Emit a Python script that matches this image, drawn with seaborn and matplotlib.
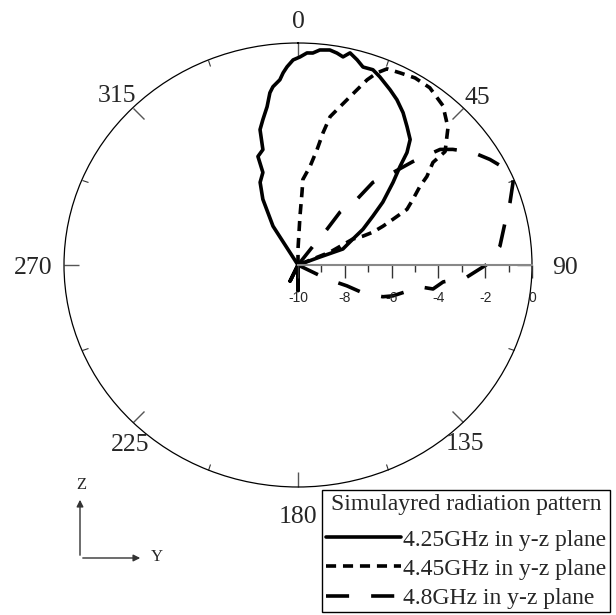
import numpy as np
import pandas as pd
import matplotlib
matplotlib.use("Agg")
import matplotlib.pyplot as plt
import seaborn as sns
from matplotlib.ticker import FixedLocator, FixedFormatter
from matplotlib.patches import FancyArrowPatch
from matplotlib.transforms import ScaledTranslation

# ---------- data (angle in deg, clockwise from top; gain in dB) ----------
ang_425 = [-31.4, -31.4, -26.9, -23.5, -19.8, -19.3, -16.1, -14.9, -12.9, -10.5, -8.8,
           -7.6, -5.3, -4.2, -3.0, -1.3, 0.5, 2.3, 3.8, 5.5, 8.0, 9.9, 11.6, 13.1,
           15.3, 17.3, 20.0, 22.4, 26.5, 29.6, 33.2, 36.8, 40.3, 42.6, 44.5, 47.5,
           52.0, 55.5, 59.9, 63.5, 69.4, 69.0, 69.0, 180.0, 180.0, 180.0, 205.0, 205.0, 205.0]
gain_425 = [-10.0, -7.95, -6.68, -5.94, -5.57, -4.82, -4.59, -3.69, -3.28, -2.75, -2.15,
            -1.90, -1.62, -1.32, -1.06, -0.76, -0.63, -0.44, -0.43, -0.27, -0.22, -0.31, -0.43, -0.19,
            -0.42, -0.66, -0.64, -0.83, -1.18, -1.44, -1.80, -2.22, -2.59, -3.12, -3.78, -4.49,
            -5.40, -6.12, -6.79, -7.38, -7.95, -9.00, -10.0, -10.0, -8.85, -10.0, -10.0, -9.20, -10.0]

ang_445 = [0.0, 0.0, 2.2, 3.0, 3.1, 6.6, 8.9, 10.2, 11.6, 13.4, 15.7, 17.7, 19.5, 21.3,
           23.3, 26.7, 30.7, 35.2, 40.8, 46.0, 50.9, 51.3, 54.1, 55.8, 58.9, 61.7, 63.1,
           64.3, 65.2, 64.9, 63.5, 67.0, 67.0]
gain_445 = [-10.0, -9.28, -7.80, -6.72, -6.14, -5.53, -4.74, -3.94, -3.18, -2.81, -2.27, -1.72, -1.15, -0.71,
            -0.38, -0.31, -0.20, -0.23, -0.52, -1.09, -1.90, -2.61, -3.20, -3.70, -4.26, -4.71, -5.45,
            -5.97, -6.47, -6.93, -7.38, -8.51, -10.0]

ang_48 = [37.0, 37.0, 37.6, 37.0, 40.4, 40.7, 44.5, 46.5, 49.4, 51.8, 55.9, 59.9, 64.3, 66.3,
          68.0, 72.7, 77.7, 84.4, 89.7, 94.3, 97.0, 100.6, 100.7, 104.0, 108.9, 111.5,
          114.4, 114.2, 117.0, 117.0]
gain_48 = [-10.0, -8.94, -7.97, -7.02, -6.11, -5.09, -4.10, -3.23, -2.00, -1.58, -0.96, -0.52, -0.09, 0.0,
           -0.09, -0.51, -0.94, -1.33, -1.90, -2.76, -3.75, -4.13, -4.69, -5.16, -5.71, -6.10,
           -6.86, -7.71, -8.61, -10.0]

series = ["4.25GHz in y-z plane", "4.45GHz in y-z plane", "4.8GHz in y-z plane"]
theta_ticks = [0, 45, 90, 135, 180, 225, 270, 315]
r_ticks = [-10, -8, -6, -4, -2, 0]
r_labels = ["-10", "-8", "-6", "-4", "-2", "0"]

frames = []
for name, a, g in zip(series, [ang_425, ang_445, ang_48], [gain_425, gain_445, gain_48]):
    frames.append(pd.DataFrame({"theta": np.deg2rad(a), "gain": g, "series": name}))
df = pd.concat(frames, ignore_index=True)

# ---------- figure ----------
sns.set_style("white")
plt.rcParams["font.family"] = ["Liberation Serif", "DejaVu Serif"]
plt.rcParams["axes.unicode_minus"] = False

fig = plt.figure(figsize=(6.16, 6.15), dpi=100)
W, H = 616, 615
cx, cy, rx, ry = 298, 265, 234, 222
ax = fig.add_axes([(cx - rx) / W, (H - cy - ry) / H, 2 * rx / W, 2 * ry / H], projection="polar")
ax.set_aspect("auto")
ax.set_theta_zero_location("N")
ax.set_theta_direction(-1)

dash_map = {series[0]: "", series[1]: (2.8, 1.9), series[2]: (6.4, 6.1)}
sns.lineplot(data=df, x="theta", y="gain", style="series", dashes=dash_map,
             color="black", sort=False, estimator=None, linewidth=2.6,
             legend=False, ax=ax)
ax.set_xlabel("")
ax.set_ylabel("")
ax.set_ylim(-10, 0)
ax.grid(False)
ax.set_yticks([])

# theta ticks on the rim (tick2 = outer edge), pointing inwards
ax.set_xticks(np.deg2rad(theta_ticks))
ax.set_xticklabels([])
ax.xaxis.set_minor_locator(FixedLocator(np.deg2rad(np.array(theta_ticks) + 22.5)))
ax.tick_params(axis="x", which="major", bottom=False, top=True, direction="in",
               length=11, width=1, color="#555555")
ax.tick_params(axis="x", which="minor", bottom=False, top=True, direction="in",
               length=4.5, width=0.8, color="#333333")
ax.spines["polar"].set_linewidth(0.9)
ax.spines["polar"].set_color("black")

# angle labels outside the rim: (label angle, normalised radius)
lab_pos = {0: (0, 1.11), 45: (45, 1.085), 90: (90, 1.14), 135: (138, 1.067),
           180: (180, 1.12), 225: (222, 1.07), 270: (270, 1.13), 315: (315, 1.095)}
shift = ScaledTranslation(0, -3 / 100, fig.dpi_scale_trans)
for t in theta_ticks:
    a, rr = lab_pos[t]
    ax.text(np.deg2rad(a), -10 + 10 * rr, str(t), fontsize=18.5, ha="center", va="center",
            transform=ax.transData + shift, clip_on=False)

# radial scale drawn along the 90 degree direction
rax = fig.add_axes([cx / W, (H - cy) / H, rx / W, 0.02])
rax.patch.set_alpha(0)
rax.set_xlim(-10, 0)
rax.set_yticks([])
for s in ["top", "left", "right"]:
    rax.spines[s].set_visible(False)
rax.spines["bottom"].set_color("#888888")
rax.spines["bottom"].set_linewidth(1.5)
rax.xaxis.set_major_locator(FixedLocator(r_ticks))
rax.xaxis.set_major_formatter(FixedFormatter(r_labels))
rax.xaxis.set_minor_locator(FixedLocator([-9, -7, -5, -3, -1]))
rax.tick_params(axis="x", which="major", bottom=True, direction="out", length=9.4, width=1,
                color="#333333", pad=9.5, labelsize=10)
rax.tick_params(axis="x", which="minor", bottom=True, direction="out", length=5, width=1, color="#333333")
for lab in rax.get_xticklabels():
    lab.set_family(["Liberation Sans", "DejaVu Sans"])

# legend
handles = ax.get_lines()[:3]
leg = fig.legend(handles, series, loc="upper left", bbox_to_anchor=(322 / W, 1 - 490 / H),
                 title="Simulayred radiation pattern", fontsize=17, title_fontsize=17,
                 frameon=True, fancybox=False, edgecolor="black", framealpha=1,
                 borderpad=0.15, labelspacing=0.32, handlelength=3.2, handletextpad=0.1,
                 borderaxespad=0)
leg.get_frame().set_linewidth(1.0)
leg._legend_box.sep = 10.5  # a little more room under the title

# Z / Y direction arrows
ox, oy = 80 / W, (H - 558) / H
fig.add_artist(FancyArrowPatch((ox, oy), (ox, (H - 497) / H), transform=fig.transFigure,
                               arrowstyle="-|>", mutation_scale=10, lw=1, color="#333333"))
fig.add_artist(FancyArrowPatch((ox, oy), (143 / W, oy), transform=fig.transFigure,
                               arrowstyle="-|>", mutation_scale=10, lw=1, color="#333333"))
fig.text(81 / W, (H - 485) / H, "Z", fontsize=12, ha="center", va="center")
fig.text(157 / W, (H - 557) / H, "Y", fontsize=12, ha="center", va="center")

fig.savefig("out.png", dpi=100)
